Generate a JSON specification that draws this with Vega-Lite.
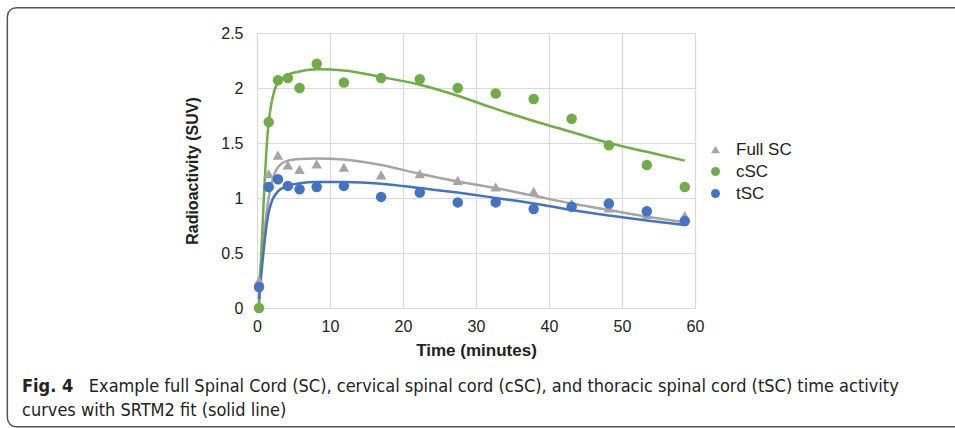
{
  "$schema": "https://vega.github.io/schema/vega-lite/v6.json",
  "width": 438,
  "height": 275,
  "autosize": {"type": "none"},
  "padding": {"left": 257, "top": 33, "right": 260, "bottom": 120},
  "background": "white",
  "title": {
    "text": "Fig. 4",
    "subtitle": ["\u200b\u00a0\u00a0\u00a0\u00a0\u00a0\u00a0\u00a0\u00a0\u00a0\u00a0\u00a0\u00a0\u00a0Example full Spinal Cord (SC), cervical spinal cord (cSC), and thoracic spinal cord (tSC) time activity", "curves with SRTM2 fit (solid line)"],
    "orient": "bottom",
    "anchor": "start",
    "frame": "group",
    "dx": -235,
    "offset": -50,
    "font": "Liberation Sans Narrow, DejaVu Sans Condensed, sans-serif",
    "fontSize": 18,
    "fontWeight": "bold",
    "color": "#222222",
    "lineHeight": 18,
    "subtitleFont": "Liberation Sans Narrow, DejaVu Sans Condensed, sans-serif",
    "subtitleFontSize": 18,
    "subtitleColor": "#222222",
    "subtitleLineHeight": 24,
    "subtitlePadding": -18
  },
  "data": {
    "values": [
      {"t": 0.28, "series": "Full SC", "y": 0.25, "fit": 0.22},
      {"t": 1.6, "series": "Full SC", "y": 1.22, "fit": 1.0},
      {"t": 2.87, "series": "Full SC", "y": 1.39, "fit": 1.28},
      {"t": 4.23, "series": "Full SC", "y": 1.30, "fit": 1.34},
      {"t": 5.83, "series": "Full SC", "y": 1.26, "fit": 1.355},
      {"t": 8.18, "series": "Full SC", "y": 1.31, "fit": 1.36},
      {"t": 11.9, "series": "Full SC", "y": 1.28, "fit": 1.35},
      {"t": 17.0, "series": "Full SC", "y": 1.21, "fit": 1.30},
      {"t": 22.3, "series": "Full SC", "y": 1.22, "fit": 1.22},
      {"t": 27.5, "series": "Full SC", "y": 1.16, "fit": 1.15},
      {"t": 32.7, "series": "Full SC", "y": 1.10, "fit": 1.09},
      {"t": 37.9, "series": "Full SC", "y": 1.06, "fit": 1.02},
      {"t": 43.1, "series": "Full SC", "y": 0.95, "fit": 0.95},
      {"t": 48.2, "series": "Full SC", "y": 0.91, "fit": 0.89},
      {"t": 53.4, "series": "Full SC", "y": 0.85, "fit": 0.83},
      {"t": 58.6, "series": "Full SC", "y": 0.84, "fit": 0.78},
      {"t": 0.28, "series": "cSC", "y": 0.0, "fit": 0.0},
      {"t": 1.6, "series": "cSC", "y": 1.69, "fit": 1.69},
      {"t": 2.87, "series": "cSC", "y": 2.07, "fit": 2.05},
      {"t": 4.23, "series": "cSC", "y": 2.09, "fit": 2.12},
      {"t": 5.83, "series": "cSC", "y": 2.0, "fit": 2.15},
      {"t": 8.18, "series": "cSC", "y": 2.22, "fit": 2.17},
      {"t": 11.9, "series": "cSC", "y": 2.05, "fit": 2.16},
      {"t": 17.0, "series": "cSC", "y": 2.09, "fit": 2.10},
      {"t": 22.3, "series": "cSC", "y": 2.08, "fit": 2.03},
      {"t": 27.5, "series": "cSC", "y": 2.0, "fit": 1.93},
      {"t": 32.7, "series": "cSC", "y": 1.95, "fit": 1.81},
      {"t": 37.9, "series": "cSC", "y": 1.90, "fit": 1.70},
      {"t": 43.1, "series": "cSC", "y": 1.72, "fit": 1.60},
      {"t": 48.2, "series": "cSC", "y": 1.48, "fit": 1.50},
      {"t": 53.4, "series": "cSC", "y": 1.30, "fit": 1.42},
      {"t": 58.6, "series": "cSC", "y": 1.10, "fit": 1.34},
      {"t": 0.28, "series": "tSC", "y": 0.19, "fit": 0.08},
      {"t": 1.6, "series": "tSC", "y": 1.10, "fit": 0.87},
      {"t": 2.87, "series": "tSC", "y": 1.17, "fit": 1.06},
      {"t": 4.23, "series": "tSC", "y": 1.11, "fit": 1.11},
      {"t": 5.83, "series": "tSC", "y": 1.08, "fit": 1.135},
      {"t": 8.18, "series": "tSC", "y": 1.10, "fit": 1.145},
      {"t": 11.9, "series": "tSC", "y": 1.11, "fit": 1.145},
      {"t": 17.0, "series": "tSC", "y": 1.01, "fit": 1.13},
      {"t": 22.3, "series": "tSC", "y": 1.05, "fit": 1.09},
      {"t": 27.5, "series": "tSC", "y": 0.96, "fit": 1.05},
      {"t": 32.7, "series": "tSC", "y": 0.96, "fit": 1.0},
      {"t": 37.9, "series": "tSC", "y": 0.90, "fit": 0.95},
      {"t": 43.1, "series": "tSC", "y": 0.92, "fit": 0.89},
      {"t": 48.2, "series": "tSC", "y": 0.95, "fit": 0.84},
      {"t": 53.4, "series": "tSC", "y": 0.88, "fit": 0.795},
      {"t": 58.6, "series": "tSC", "y": 0.79, "fit": 0.755}
    ]
  },
  "resolve": {"legend": {"color": "independent", "shape": "independent"}},
  "layer": [
    {
      "data": {"values": [{}]},
      "mark": {"type": "rect", "fill": "white", "fillOpacity": 0, "stroke": "#555555", "strokeWidth": 1.5, "cornerRadius": 9, "clip": false},
      "encoding": {
        "x": {"datum": -34.2, "type": "quantitative", "scale": {"domain": [0, 60], "nice": false}},
        "x2": {"datum": 100},
        "y": {"datum": 2.73, "type": "quantitative", "scale": {"domain": [0, 2.5], "nice": false}},
        "y2": {"datum": -1.08}
      }
    },
    {
      "mark": {"type": "line", "strokeWidth": 2.5, "interpolate": "monotone"},
      "encoding": {
        "x": {"field": "t", "type": "quantitative"},
        "y": {"field": "fit", "type": "quantitative"},
        "color": {"field": "series", "type": "nominal", "legend": null,
          "scale": {"domain": ["Full SC", "cSC", "tSC"], "range": ["#a5a5a5", "#70ad47", "#4472c4"]}},
        "order": {"field": "t"}
      }
    },
    {
      "mark": {"type": "point", "filled": true, "opacity": 1, "size": 110},
      "encoding": {
        "x": {"field": "t", "type": "quantitative",
          "axis": {"title": "Time (minutes)", "values": [0, 10, 20, 30, 40, 50, 60]}},
        "y": {"field": "y", "type": "quantitative",
          "axis": {"title": "Radioactivity (SUV)", "values": [0, 0.5, 1, 1.5, 2, 2.5], "labelExpr": "datum.value"}},
        "color": {"field": "series", "type": "nominal", "title": null,
          "scale": {"domain": ["Full SC", "cSC", "tSC"], "range": ["#a5a5a5", "#70ad47", "#4472c4"]}},
        "shape": {"field": "series", "type": "nominal", "title": null,
          "scale": {"domain": ["Full SC", "cSC", "tSC"], "range": ["triangle-up", "circle", "circle"]}}
      }
    }
  ],
  "config": {
    "view": {"stroke": null},
    "axis": {
      "domain": false,
      "ticks": false,
      "grid": true,
      "gridColor": "#d9d9d9",
      "gridWidth": 1.2,
      "labelFlush": false,
      "labelFont": "Liberation Sans",
      "labelFontSize": 16,
      "labelColor": "#222222",
      "titleFont": "Liberation Sans",
      "titleFontWeight": "bold",
      "titleColor": "#222222"
    },
    "axisX": {"labelPadding": 10, "titlePadding": 8, "titleFontSize": 17},
    "axisY": {"labelPadding": 14, "titlePadding": 20, "titleFontSize": 16},
    "legend": {
      "orient": "none",
      "legendX": 450,
      "legendY": 108,
      "labelFont": "Liberation Sans",
      "labelFontSize": 17,
      "labelColor": "#222222",
      "symbolSize": 80,
      "rowPadding": 4,
      "labelOffset": 12
    }
  }
}
